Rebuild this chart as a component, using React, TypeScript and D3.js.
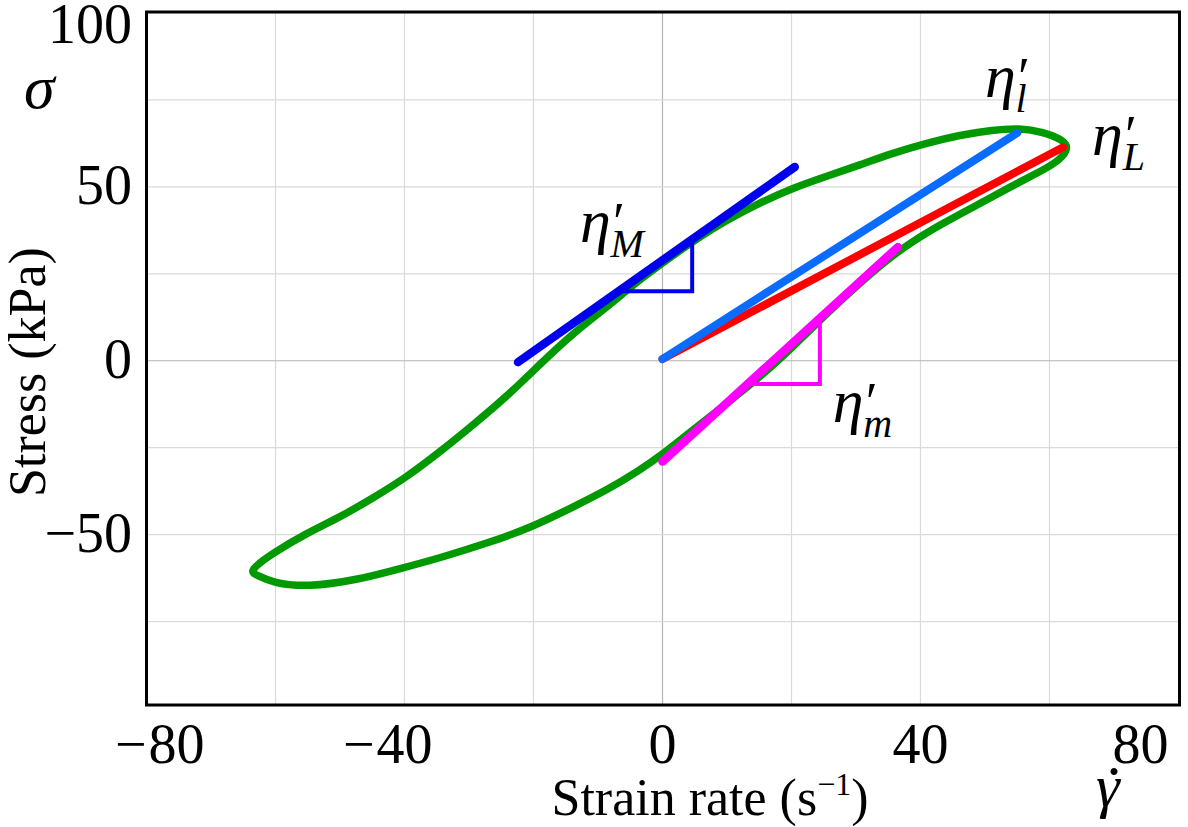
import * as d3 from "d3";

const W = 1188;
const H = 827;
const plot = { left: 146.5, right: 1178.5, top: 13, bottom: 705 };

// Lissajous loop: strain rate (1/s) and stress (kPa), traced round the cycle
const loopRate = [
  -64.2, -60.4, -55.1, -50.0, -44.9, -39.6, -34.5, -29.4, -24.2, -19.0, -13.9, -8.6, -3.5,
  4.7, 10.0, 15.1, 20.2, 25.5, 30.6, 35.7, 41.0, 46.1, 51.2, 55.4, 59.0, 62.1, 63.0,
  61.6, 59.0, 53.9, 48.8, 43.5, 38.4, 34.8, 30.6, 25.5, 20.2, 15.1, 10.0, 4.7, -0.1,
  -3.5, -8.6, -13.9, -20.2, -26.7, -34.5, -40.3, -47.4, -55.1, -60.4, -62.9,
];
const loopStress = [
  -60.5, -55.3, -49.5, -45.0, -39.5, -33.4, -26.2, -18.5, -10.4, -1.0, 7.9, 15.4, 23.5,
  34.4, 40.5, 45.4, 49.7, 53.1, 56.3, 59.7, 62.6, 64.9, 66.4, 66.9, 65.8, 63.5, 61.2,
  57.7, 54.8, 50.0, 44.8, 39.6, 33.9, 29.0, 22.3, 13.7, 3.9, -4.7, -12.2, -19.9, -27.1,
  -31.4, -37.2, -42.1, -47.8, -52.2, -56.7, -59.6, -63.1, -65.1, -63.9, -61.6,
];

// straight lines: [rate, stress] at each end
const tangentM = [[-22.4, -0.4], [20.5, 55.7]];
const tangentm = [[0, -29.0], [36.5, 32.7]];
const secantl = [[0, 0.5], [55.0, 65.5]];
const secantL = [[0, 0.5], [62.1, 61.4]];

// slope triangles: base stress and the rate of the vertical leg
const triM = { base: 20.0, corner: 4.6 };
const trim = { base: -6.7, corner: 24.4 };

const xTicks = [-80, -40, 0, 40, 80];
const yTicks = [-50, 0, 50, 100];
const xGrid = [-60, -40, -20, 0, 20, 40, 60];
const yGrid = [-75, -50, -25, 0, 25, 50, 75];

// label anchors in data units (rate, stress)
const etaLabels = [
  { sub: "M", at: [-12.8, 34.1] },
  { sub: "l", at: [50.0, 75.8] },
  { sub: "L", at: [66.6, 59.2] },
  { sub: "m", at: [26.4, -17.6] },
];

const serif = "Liberation Serif, Times New Roman, serif";

const x = d3.scaleLinear().domain([-80, 80]).range([plot.left, plot.right]);
const y = d3.scaleLinear().domain([-99, 100]).range([plot.bottom, plot.top]);

const loopLine = d3
  .line<number>()
  .x((i) => x(loopRate[i]))
  .y((i) => y(loopStress[i]))
  .curve(d3.curveBasisClosed);

const seg = d3
  .line<number[]>()
  .x((d) => x(d[0]))
  .y((d) => y(d[1]));

function triangle(line: number[][], t: { base: number; corner: number }) {
  const [[x0, y0], [x1, y1]] = line;
  const k = (y1 - y0) / (x1 - x0);
  const start = x0 + (t.base - y0) / k;
  const top = y0 + k * (t.corner - x0);
  return [
    [start, t.base],
    [t.corner, t.base],
    [t.corner, top],
  ];
}

const Eta = ({ sub, at }: { sub: string; at: number[] }) => (
  <text x={x(at[0])} y={y(at[1])} fontFamily={serif} fontStyle="italic" fontSize={62} fill="#000">
    η
    <tspan fontSize={54} dx={-1} dy={-2}>′</tspan>
    <tspan fontSize={40} dx={-11} dy={17}>{sub}</tspan>
  </text>
);

export default function App() {
  const idx = d3.range(loopRate.length);
  const tickFs = 56;
  const digitW = tickFs * 0.5;

  return (
    <svg
      width={W}
      height={H}
      viewBox={`0 0 ${W} ${H}`}
      style={{ position: "absolute", left: 0, top: 0, background: "#fff" }}
    >
      <g className="grid">
        {xGrid.map((v) => (
          <line
            key={"gx" + v}
            x1={x(v)}
            x2={x(v)}
            y1={plot.top}
            y2={plot.bottom}
            stroke={v === 0 ? "#b4b4b4" : "#dadada"}
            strokeWidth={1.2}
          />
        ))}
        {yGrid.map((v) => (
          <line
            key={"gy" + v}
            x1={plot.left}
            x2={plot.right}
            y1={y(v)}
            y2={y(v)}
            stroke={v === 0 ? "#b4b4b4" : "#dadada"}
            strokeWidth={1.2}
          />
        ))}
      </g>

      <path d={loopLine(idx) ?? ""} fill="none" stroke="#009900" strokeWidth={7.5} />

      <g fill="none" strokeLinecap="round">
        <path d={seg(secantL) ?? ""} stroke="#ff0000" strokeWidth={8} />
        <path d={seg(secantl) ?? ""} stroke="#0a6cff" strokeWidth={8} />
        <path d={seg(tangentM) ?? ""} stroke="#0000ee" strokeWidth={8.5} />
        <path d={seg(tangentm) ?? ""} stroke="#ff00ff" strokeWidth={8.5} />
        <path d={seg(triangle(tangentM, triM)) ?? ""} stroke="#0000ee" strokeWidth={4} strokeLinecap="butt" />
        <path d={seg(triangle(tangentm, trim)) ?? ""} stroke="#ff00ff" strokeWidth={4} strokeLinecap="butt" />
      </g>

      {etaLabels.map((d) => (
        <Eta key={d.sub} sub={d.sub} at={d.at} />
      ))}

      <rect
        x={plot.left}
        y={plot.top - 1}
        width={plot.right - plot.left + 1}
        height={plot.bottom - plot.top + 1}
        fill="none"
        stroke="#000"
        strokeWidth={3}
      />

      <g fontFamily={serif} fontSize={tickFs} fill="#000">
        {yTicks.map((v) => (
          <text key={"yt" + v} x={132} y={Math.max(plot.top + 30, y(v) + tickFs * 0.31)} textAnchor="end">
            {v < 0 ? "\u2212" + Math.abs(v) : v}
          </text>
        ))}
        {xTicks.map((v) => {
          const digits = String(Math.abs(v));
          const cx = Math.max(plot.left + 30, Math.min(plot.right - 38, x(v)));
          return (
            <g key={"xt" + v}>
              <text x={cx} y={763} textAnchor="middle">{digits}</text>
              {v < 0 && (
                <text x={cx - (digits.length * digitW) / 2 - 2} y={763} textAnchor="end">
                  {"\u2212"}
                </text>
              )}
            </g>
          );
        })}
      </g>

      <g fontFamily={serif} fill="#000">
        <text x={710} y={815} fontSize={52} textAnchor="middle">
          Strain rate (s
          <tspan fontSize={32} dy={-20}>{"\u22121"}</tspan>
          <tspan dy={20}>)</tspan>
        </text>
        <g transform="translate(45,372) rotate(-90)">
          <text x={0} y={0} fontSize={52} textAnchor="middle" fontFamily={serif}>
            Stress (kPa)
          </text>
        </g>
        <text x={24} y={108} fontSize={62} fontStyle="italic">σ</text>
        <text x={1096} y={806} fontSize={60} fontStyle="italic">γ</text>
        <text x={1114} y={791} fontSize={60} textAnchor="middle">·</text>
      </g>
    </svg>
  );
}
